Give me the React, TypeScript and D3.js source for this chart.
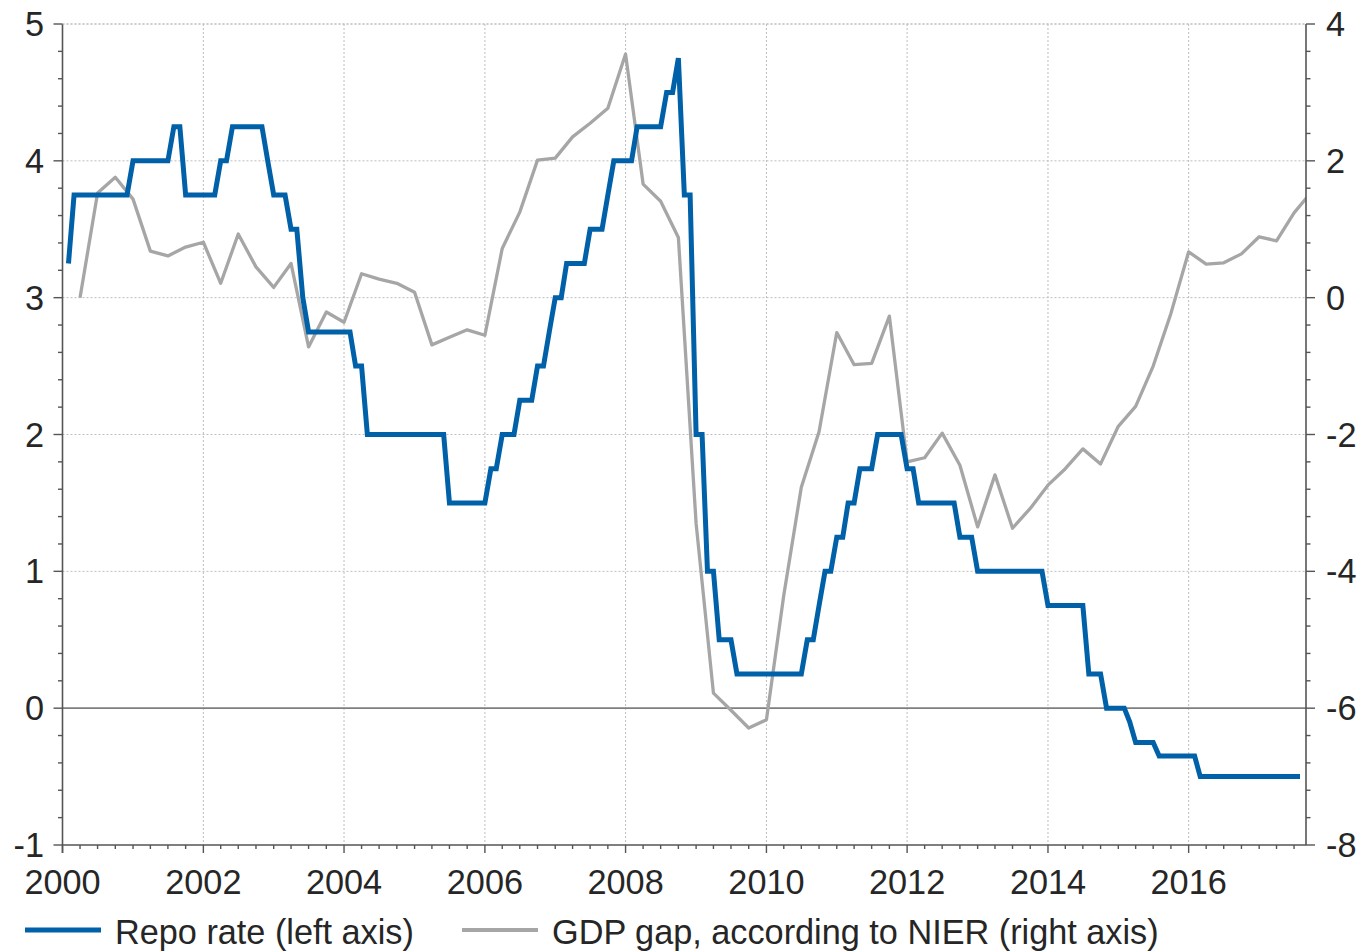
import React from "react";
import * as d3 from "d3";

// Repo rate, monthly, Jan 2000 – Jul 2017 (per cent, left axis)
const repoRate: number[] = [
  // 2000
  3.25, 3.75, 3.75, 3.75, 3.75, 3.75, 3.75, 3.75, 3.75, 3.75, 3.75, 4.0,
  // 2001
  4.0, 4.0, 4.0, 4.0, 4.0, 4.0, 4.25, 4.25, 3.75, 3.75, 3.75, 3.75,
  // 2002
  3.75, 3.75, 4.0, 4.0, 4.25, 4.25, 4.25, 4.25, 4.25, 4.25, 4.0, 3.75,
  // 2003
  3.75, 3.75, 3.5, 3.5, 3.0, 2.75, 2.75, 2.75, 2.75, 2.75, 2.75, 2.75,
  // 2004
  2.75, 2.5, 2.5, 2.0, 2.0, 2.0, 2.0, 2.0, 2.0, 2.0, 2.0, 2.0,
  // 2005
  2.0, 2.0, 2.0, 2.0, 2.0, 1.5, 1.5, 1.5, 1.5, 1.5, 1.5, 1.5,
  // 2006
  1.75, 1.75, 2.0, 2.0, 2.0, 2.25, 2.25, 2.25, 2.5, 2.5, 2.75, 3.0,
  // 2007
  3.0, 3.25, 3.25, 3.25, 3.25, 3.5, 3.5, 3.5, 3.75, 4.0, 4.0, 4.0,
  // 2008
  4.0, 4.25, 4.25, 4.25, 4.25, 4.25, 4.5, 4.5, 4.75, 3.75, 3.75, 2.0,
  // 2009
  2.0, 1.0, 1.0, 0.5, 0.5, 0.5, 0.25, 0.25, 0.25, 0.25, 0.25, 0.25,
  // 2010
  0.25, 0.25, 0.25, 0.25, 0.25, 0.25, 0.5, 0.5, 0.75, 1.0, 1.0, 1.25,
  // 2011
  1.25, 1.5, 1.5, 1.75, 1.75, 1.75, 2.0, 2.0, 2.0, 2.0, 2.0, 1.75,
  // 2012
  1.75, 1.5, 1.5, 1.5, 1.5, 1.5, 1.5, 1.5, 1.25, 1.25, 1.25, 1.0,
  // 2013
  1.0, 1.0, 1.0, 1.0, 1.0, 1.0, 1.0, 1.0, 1.0, 1.0, 1.0, 0.75,
  // 2014
  0.75, 0.75, 0.75, 0.75, 0.75, 0.75, 0.25, 0.25, 0.25, 0.0, 0.0, 0.0,
  // 2015
  0.0, -0.1, -0.25, -0.25, -0.25, -0.25, -0.35, -0.35, -0.35, -0.35, -0.35, -0.35,
  // 2016
  -0.35, -0.5, -0.5, -0.5, -0.5, -0.5, -0.5, -0.5, -0.5, -0.5, -0.5, -0.5,
  // 2017
  -0.5, -0.5, -0.5, -0.5, -0.5, -0.5, -0.5,
];

// GDP gap according to NIER, quarterly, Q1 2000 – Q3 2017 (per cent, right axis)
const gdpGap: number[] = [
  0.0, 1.53, 1.76, 1.44, // 2000
  0.68, 0.61, 0.74, 0.81, // 2001
  0.21, 0.93, 0.45, 0.15, // 2002
  0.5, -0.72, -0.21, -0.36, // 2003
  0.35, 0.27, 0.21, 0.08, // 2004
  -0.69, -0.58, -0.47, -0.55, // 2005
  0.72, 1.25, 2.01, 2.04, // 2006
  2.35, 2.55, 2.77, 3.56, // 2007
  1.66, 1.41, 0.88, -3.3, // 2008
  -5.78, -6.03, -6.29, -6.17, // 2009
  -4.35, -2.77, -1.96, -0.51, // 2010
  -0.98, -0.96, -0.27, -2.4, // 2011
  -2.34, -1.98, -2.45, -3.35, // 2012
  -2.59, -3.37, -3.08, -2.74, // 2013
  -2.5, -2.21, -2.43, -1.88, // 2014
  -1.59, -1.0, -0.23, 0.67, // 2015
  0.49, 0.51, 0.64, 0.89, // 2016
  0.83, 1.24, 1.55, // 2017
];

const leftTicks = [5, 4, 3, 2, 1, 0, -1];
const rightTicks = [4, 2, 0, -2, -4, -6, -8];
const yearTicks = [2000, 2002, 2004, 2006, 2008, 2010, 2012, 2014, 2016];

const seriesNames = ["Repo rate (left axis)", "GDP gap, according to NIER (right axis)"];

const W = 1360;
const H = 952;
const M = { left: 62.5, right: 1306, top: 24, bottom: 845 };
const BLUE = "#0061a9";
const GREY = "#a6a6a6";
const AXIS = "#555555";
const TEXT = "#262626";
const FONT = "'Liberation Sans', Arial, sans-serif";
const SX = 0.952;

function Label(props: { x: number; y: number; anchor: string; children: React.ReactNode; size?: number }) {
  const { x, y, anchor, children, size = 36 } = props;
  return (
    <text
      transform={`translate(${x},${y}) scale(${SX},1)`}
      textAnchor={anchor as any}
      fontFamily={FONT}
      fontSize={size}
      fill={TEXT}
    >
      {children}
    </text>
  );
}

export default function App() {
  const x = d3
    .scaleTime()
    .domain([new Date(2000, 0, 1), new Date(2017, 8, 1)])
    .range([M.left, M.right]);
  const yL = d3.scaleLinear().domain([-1, 5]).range([M.bottom, M.top]);
  const yR = d3.scaleLinear().domain([-8, 4]).range([M.bottom, M.top]);

  const repoPts = repoRate.map((v, i) => ({ d: new Date(2000, i + 1, 1), v }));
  const gapPts = gdpGap.map((v, i) => ({ d: new Date(2000, 3 * (i + 1), 1), v }));

  const repoLine = d3
    .line<{ d: Date; v: number }>()
    .x((p) => x(p.d))
    .y((p) => yL(p.v))(repoPts) as string;
  const gapLine = d3
    .line<{ d: Date; v: number }>()
    .x((p) => x(p.d))
    .y((p) => yR(p.v))(gapPts) as string;

  const leftMinor = d3.range(-1, 5.001, 0.2).map((v) => Math.round(v * 10) / 10);
  const quarterTicks = d3.timeMonth.every(3)!.range(new Date(2000, 0, 1), new Date(2017, 8, 2));

  return (
    <svg
      width={W}
      height={H}
      viewBox={`0 0 ${W} ${H}`}
      style={{ position: "absolute", left: 0, top: 0, background: "#fff" }}
    >
      <defs>
        <clipPath id="plot">
          <rect x={M.left} y={0} width={M.right - M.left} height={H} />
        </clipPath>
      </defs>
      <rect width={W} height={H} fill="#fff" />

      {/* horizontal gridlines */}
      {leftTicks
        .filter((t) => t !== 0 && t !== -1)
        .map((t) => (
          <line
            key={"hg" + t}
            x1={M.left}
            x2={M.right}
            y1={yL(t)}
            y2={yL(t)}
            stroke="#bdbdbd"
            strokeWidth={1}
            strokeDasharray="2,2"
          />
        ))}
      {/* vertical gridlines */}
      {yearTicks
        .filter((yr) => yr !== 2000)
        .map((yr) => (
          <line
            key={"vg" + yr}
            x1={x(new Date(yr, 0, 1))}
            x2={x(new Date(yr, 0, 1))}
            y1={M.top}
            y2={M.bottom}
            stroke="#bdbdbd"
            strokeWidth={1}
            strokeDasharray="2,2"
          />
        ))}

      {/* zero line */}
      <line x1={M.left} x2={M.right} y1={yL(0)} y2={yL(0)} stroke="#7f7f7f" strokeWidth={1.6} />

      {/* series */}
      <g clipPath="url(#plot)">
        <path d={gapLine} fill="none" stroke={GREY} strokeWidth={3.3} strokeLinejoin="round" />
        <path d={repoLine} fill="none" stroke={BLUE} strokeWidth={5} strokeLinejoin="miter" />
      </g>

      {/* left axis */}
      <line x1={M.left} x2={M.left} y1={M.top} y2={M.bottom + 8} stroke={AXIS} strokeWidth={1.6} />
      {leftMinor.map((t) => (
        <line
          key={"lm" + t}
          x1={M.left - (Number.isInteger(t) ? 9 : 4.5)}
          x2={M.left}
          y1={yL(t)}
          y2={yL(t)}
          stroke={AXIS}
          strokeWidth={1.4}
        />
      ))}
      {leftTicks.map((t) => (
        <Label key={"ll" + t} x={44} y={yL(t) + 12} anchor="end">
          {t}
        </Label>
      ))}

      {/* right axis */}
      <line x1={M.right} x2={M.right} y1={M.top} y2={M.bottom} stroke={AXIS} strokeWidth={1.6} />
      {leftMinor.map((t) => (
        <line
          key={"rm" + t}
          x1={M.right}
          x2={M.right + (Math.round(yR.invert(yL(t)) * 10) % 20 === 0 ? 9 : 4.5)}
          y1={yL(t)}
          y2={yL(t)}
          stroke={AXIS}
          strokeWidth={1.4}
        />
      ))}
      {rightTicks.map((t) => (
        <Label key={"rl" + t} x={1326} y={yR(t) + 12} anchor="start">
          {t}
        </Label>
      ))}

      {/* bottom axis */}
      <line x1={M.left} x2={M.right} y1={M.bottom} y2={M.bottom} stroke={AXIS} strokeWidth={1.6} />
      {quarterTicks.map((d) => {
        const major = d.getMonth() === 0 && d.getFullYear() % 2 === 0;
        return (
          <line
            key={"xt" + d.getTime()}
            x1={x(d)}
            x2={x(d)}
            y1={M.bottom}
            y2={M.bottom + (major ? 8 : 4)}
            stroke={AXIS}
            strokeWidth={1.4}
          />
        );
      })}
      {yearTicks.map((yr) => (
        <Label key={"xl" + yr} x={x(new Date(yr, 0, 1))} y={894} anchor="middle">
          {yr}
        </Label>
      ))}

      {/* top dotted border */}
      <line
        x1={M.left}
        x2={M.right}
        y1={M.top}
        y2={M.top}
        stroke="#bdbdbd"
        strokeWidth={1}
        strokeDasharray="2,2"
      />

      {/* legend */}
      <line x1={25} x2={101} y1={930} y2={930} stroke={BLUE} strokeWidth={5} />
      <Label x={115} y={944} anchor="start">
        {seriesNames[0]}
      </Label>
      <line x1={462} x2={538} y1={930} y2={930} stroke={GREY} strokeWidth={4} />
      <Label x={552} y={944} anchor="start">
        {seriesNames[1]}
      </Label>
    </svg>
  );
}
